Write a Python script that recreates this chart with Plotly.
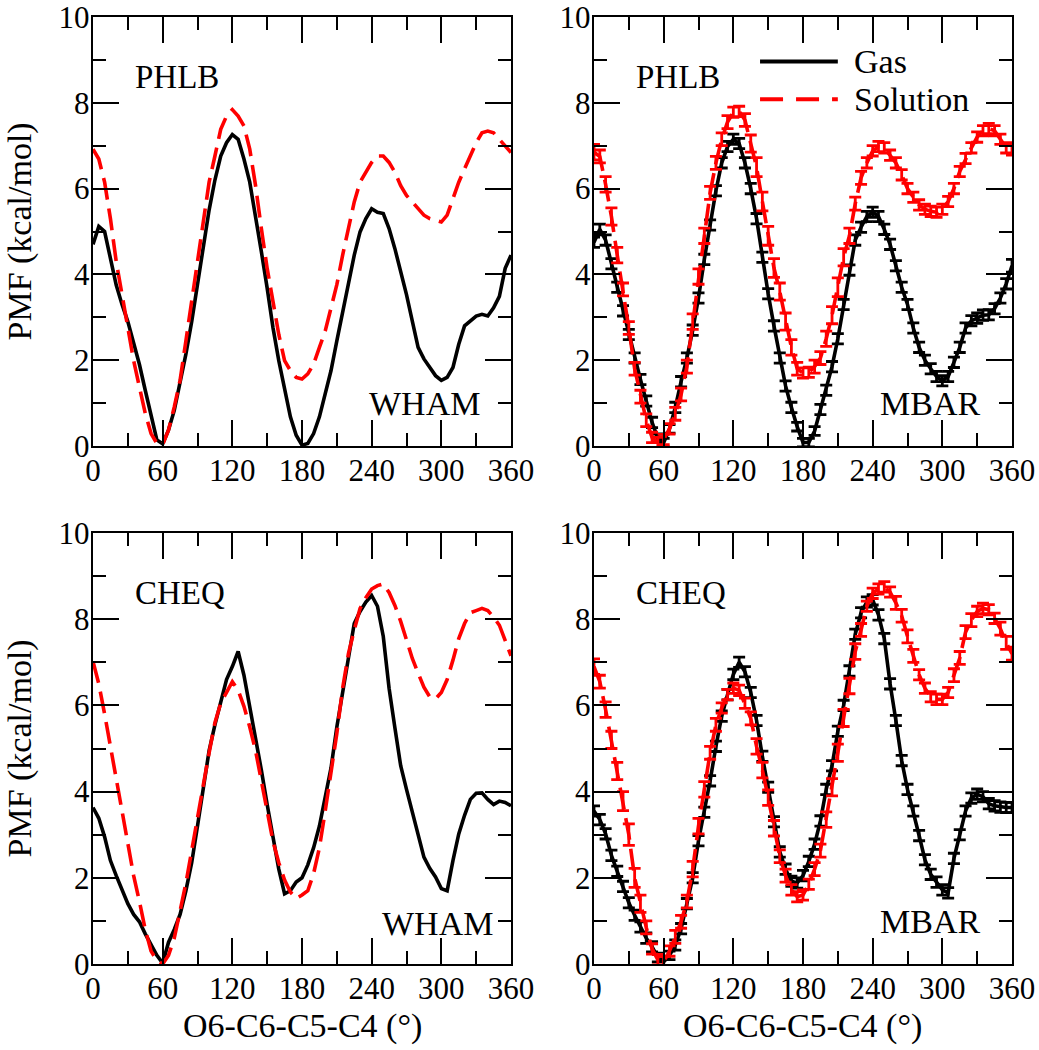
import plotly.graph_objects as go

# ---------------- data ----------------
angle = list(range(0, 361, 5))  # O6-C6-C5-C4 dihedral (deg)

# PHLB, WHAM
phlb_wham_gas = [4.70, 5.12, 5.00, 4.35, 3.75, 3.30, 2.90, 2.40, 1.90, 1.30, 0.68, 0.14, 0.05,
                 0.37, 0.83, 1.45, 2.14, 2.90, 3.76, 4.68, 5.50, 6.20, 6.76, 7.07, 7.26, 7.15,
                 6.69, 6.15, 5.38, 4.53, 3.68, 2.76, 1.99, 1.29, 0.68, 0.25, 0.02, 0.06, 0.29,
                 0.68, 1.22, 1.76, 2.45, 3.14, 3.84, 4.45, 4.99, 5.30, 5.53, 5.45, 5.42, 5.07,
                 4.60, 4.07, 3.53, 2.91, 2.30, 2.03, 1.83, 1.64, 1.53, 1.60, 1.83, 2.37, 2.80,
                 2.91, 3.03, 3.07, 3.03, 3.22, 3.49, 4.14, 4.45]
phlb_wham_sol = [6.92, 6.69, 6.15, 5.30, 4.30, 3.53, 2.76, 1.99, 1.37, 0.76, 0.29, 0.06, 0.03,
                 0.37, 0.91, 1.53, 2.45, 3.37, 4.30, 5.30, 6.15, 6.76, 7.38, 7.69, 7.84, 7.69,
                 7.46, 6.92, 6.07, 5.07, 4.14, 3.37, 2.60, 1.99, 1.76, 1.60, 1.56, 1.68, 1.91,
                 2.30, 2.68, 3.22, 3.76, 4.45, 5.07, 5.69, 6.15, 6.38, 6.61, 6.76, 6.76, 6.61,
                 6.38, 6.07, 5.84, 5.69, 5.53, 5.38, 5.30, 5.26, 5.22, 5.38, 5.76, 6.15, 6.46,
                 6.76, 7.07, 7.30, 7.34, 7.30, 7.15, 6.99, 6.84]

# PHLB, MBAR
phlb_mbar_gas = [4.75, 5.05, 4.80, 4.25, 3.70, 3.15, 2.60, 2.05, 1.55, 1.05, 0.55, 0.18, 0.08,
                 0.40, 0.90, 1.50, 2.05, 2.70, 3.45, 4.35, 5.15, 5.95, 6.60, 6.98, 7.15, 7.05,
                 6.60, 6.00, 5.30, 4.40, 3.55, 2.80, 2.05, 1.40, 0.90, 0.45, 0.08, 0.08, 0.35,
                 0.85, 1.30, 1.85, 2.50, 3.30, 4.10, 4.80, 5.10, 5.35, 5.45, 5.35, 5.05, 4.70,
                 4.20, 3.70, 3.30, 2.75, 2.30, 2.00, 1.80, 1.62, 1.52, 1.62, 1.95, 2.30, 2.75,
                 2.92, 2.98, 3.05, 3.06, 3.20, 3.45, 3.78, 4.20]
phlb_mbar_sol = [6.85, 6.75, 6.10, 5.35, 4.45, 3.65, 2.75, 1.80, 1.15, 0.60, 0.20, 0.08, 0.15,
                 0.40, 0.75, 1.20, 1.85, 2.90, 3.95, 4.90, 5.90, 6.60, 7.15, 7.55, 7.78, 7.80,
                 7.60, 7.05, 6.50, 5.70, 4.90, 4.15, 3.60, 2.90, 2.30, 1.80, 1.70, 1.72, 1.85,
                 2.05, 2.50, 3.05, 3.70, 4.40, 4.90, 5.65, 6.25, 6.60, 6.88, 6.98, 6.95, 6.78,
                 6.60, 6.32, 6.00, 5.80, 5.62, 5.52, 5.47, 5.45, 5.52, 5.70, 6.00, 6.40, 6.70,
                 6.95, 7.20, 7.35, 7.40, 7.35, 7.15, 6.95, 6.90]

# CHEQ, WHAM
cheq_wham_gas = [3.63, 3.38, 2.95, 2.40, 2.05, 1.70, 1.40, 1.15, 0.98, 0.70, 0.45, 0.20, 0.02,
                 0.50, 0.80, 1.15, 1.70, 2.35, 3.20, 4.10, 4.95, 5.55, 6.05, 6.60, 6.90, 7.25,
                 6.70, 6.00, 5.20, 4.50, 3.70, 2.95, 2.20, 1.63, 1.70, 1.90, 2.00, 2.30, 2.70,
                 3.20, 3.90, 4.55, 5.50, 6.30, 7.15, 7.90, 8.18, 8.40, 8.55, 8.30, 7.60, 6.40,
                 5.48, 4.60, 4.05, 3.50, 2.95, 2.48, 2.22, 2.02, 1.75, 1.70, 2.40, 3.02, 3.45,
                 3.82, 3.96, 3.97, 3.82, 3.70, 3.78, 3.75, 3.67]
cheq_wham_sol = [7.02, 6.50, 5.80, 5.05, 4.30, 3.50, 2.71, 2.05, 1.45, 0.80, 0.30, 0.08, 0.00,
                 0.20, 0.60, 1.20, 1.87, 2.63, 3.45, 4.15, 4.90, 5.60, 6.05, 6.32, 6.55, 6.35,
                 5.98, 5.50, 4.95, 4.25, 3.50, 2.85, 2.35, 1.95, 1.67, 1.52, 1.60, 1.70, 2.10,
                 2.70, 3.55, 4.40, 5.35, 6.40, 7.20, 7.75, 8.25, 8.50, 8.70, 8.78, 8.82, 8.62,
                 8.32, 7.95, 7.50, 7.09, 6.75, 6.42, 6.20, 6.15, 6.30, 6.60, 7.05, 7.55, 7.90,
                 8.15, 8.20, 8.25, 8.20, 8.05, 7.86, 7.50, 7.15]

# CHEQ, MBAR
cheq_mbar_gas = [3.55, 3.35, 3.02, 2.52, 2.15, 1.80, 1.42, 1.13, 0.86, 0.60, 0.40, 0.15, 0.05,
                 0.20, 0.44, 0.82, 1.40, 2.00, 2.86, 3.52, 4.25, 5.05, 5.75, 6.25, 6.72, 7.00,
                 6.78, 6.30, 5.65, 4.82, 4.10, 3.30, 2.60, 2.20, 1.92, 1.88, 2.05, 2.38, 2.78,
                 3.32, 4.05, 4.60, 5.40, 6.00, 6.80, 7.65, 8.15, 8.40, 8.45, 8.10, 7.55, 6.50,
                 5.65, 4.72, 4.05, 3.55, 2.98, 2.42, 2.08, 1.90, 1.72, 1.65, 2.45, 3.00, 3.55,
                 3.85, 3.94, 3.88, 3.72, 3.67, 3.64, 3.63, 3.63]
cheq_mbar_sol = [6.90, 6.55, 5.90, 5.20, 4.48, 3.78, 3.00, 2.00, 1.40, 0.85, 0.35, 0.10, 0.05,
                 0.30, 0.63, 0.98, 1.45, 2.20, 3.20, 4.05, 4.90, 5.55, 5.94, 6.25, 6.40, 6.35,
                 6.05, 5.70, 5.05, 4.50, 3.86, 3.15, 2.50, 2.05, 1.72, 1.56, 1.60, 1.85, 2.20,
                 2.63, 3.35, 4.10, 4.90, 5.71, 6.45, 7.25, 7.75, 8.30, 8.60, 8.70, 8.75, 8.63,
                 8.38, 8.08, 7.60, 7.15, 6.71, 6.40, 6.20, 6.14, 6.14, 6.30, 6.70, 7.10, 7.70,
                 7.98, 8.18, 8.25, 8.22, 8.02, 7.78, 7.45, 7.20]

# MBAR error estimates (kcal/mol)
phlb_mbar_gas_err = [0.12, 0.12, 0.12, 0.12, 0.12, 0.12, 0.12, 0.12, 0.12, 0.12, 0.12, 0.10, 0.10,
                     0.10, 0.12, 0.12, 0.12, 0.12, 0.12, 0.12, 0.12, 0.12, 0.12, 0.12, 0.12, 0.12,
                     0.12, 0.12, 0.12, 0.12, 0.12, 0.12, 0.12, 0.12, 0.12, 0.10, 0.10, 0.10, 0.10,
                     0.12, 0.12, 0.12, 0.12, 0.12, 0.12, 0.12, 0.12, 0.12, 0.12, 0.12, 0.12, 0.12,
                     0.12, 0.12, 0.12, 0.12, 0.12, 0.12, 0.12, 0.12, 0.12, 0.12, 0.12, 0.12, 0.12,
                     0.12, 0.12, 0.12, 0.12, 0.12, 0.12, 0.12, 0.15]
phlb_mbar_sol_err = [0.18, 0.15, 0.18, 0.20, 0.18, 0.15, 0.15, 0.15, 0.15, 0.15, 0.12, 0.12, 0.12,
                     0.12, 0.15, 0.15, 0.15, 0.18, 0.18, 0.18, 0.15, 0.15, 0.15, 0.15, 0.12, 0.12,
                     0.15, 0.20, 0.22, 0.22, 0.22, 0.22, 0.20, 0.20, 0.18, 0.15, 0.12, 0.12, 0.15,
                     0.15, 0.18, 0.20, 0.22, 0.20, 0.18, 0.15, 0.15, 0.12, 0.12, 0.12, 0.12, 0.12,
                     0.12, 0.12, 0.12, 0.12, 0.12, 0.12, 0.12, 0.12, 0.12, 0.12, 0.12, 0.12, 0.12,
                     0.12, 0.12, 0.12, 0.12, 0.12, 0.12, 0.12, 0.12]
cheq_mbar_gas_err = [0.12, 0.12, 0.12, 0.12, 0.12, 0.12, 0.12, 0.12, 0.12, 0.12, 0.12, 0.10, 0.10,
                     0.10, 0.12, 0.12, 0.12, 0.12, 0.12, 0.12, 0.12, 0.12, 0.12, 0.12, 0.12, 0.12,
                     0.12, 0.12, 0.12, 0.12, 0.12, 0.12, 0.12, 0.12, 0.12, 0.12, 0.12, 0.12, 0.12,
                     0.12, 0.12, 0.12, 0.12, 0.12, 0.12, 0.12, 0.12, 0.12, 0.12, 0.12, 0.12, 0.12,
                     0.12, 0.12, 0.12, 0.12, 0.12, 0.12, 0.12, 0.12, 0.12, 0.12, 0.12, 0.12, 0.12,
                     0.12, 0.12, 0.12, 0.12, 0.12, 0.12, 0.12, 0.12]
cheq_mbar_sol_err = [0.18, 0.15, 0.18, 0.20, 0.20, 0.22, 0.25, 0.22, 0.20, 0.15, 0.12, 0.12, 0.12,
                     0.12, 0.15, 0.15, 0.15, 0.18, 0.18, 0.18, 0.15, 0.15, 0.12, 0.12, 0.12, 0.12,
                     0.12, 0.15, 0.18, 0.18, 0.18, 0.18, 0.15, 0.15, 0.12, 0.12, 0.12, 0.12, 0.15,
                     0.15, 0.18, 0.20, 0.20, 0.20, 0.18, 0.18, 0.15, 0.12, 0.12, 0.12, 0.12, 0.12,
                     0.15, 0.15, 0.15, 0.15, 0.12, 0.12, 0.12, 0.12, 0.12, 0.12, 0.15, 0.15, 0.15,
                     0.15, 0.12, 0.12, 0.12, 0.12, 0.15, 0.15, 0.15]

force_fields = ["PHLB", "PHLB", "CHEQ", "CHEQ"]
methods = ["WHAM", "MBAR", "WHAM", "MBAR"]
series_names = ["Gas", "Solution"]
x_ticks = [0, 60, 120, 180, 240, 300, 360]
y_ticks = [0, 2, 4, 6, 8, 10]

# ---------------- figure ----------------
W, H = 1039, 1050
FONT = "Liberation Serif, Liberation Sans, Arial, sans-serif"
BLACK = "#000000"
RED = "#ff0000"

def px_x(p):
    return p / W

def px_y(p):
    return 1 - p / H

x_dom = [[px_x(93), px_x(511)], [px_x(594), px_x(1012)]]
y_dom = [[px_y(446), px_y(17)], [px_y(964), px_y(533)]]

fig = go.Figure()

panels = [
    (phlb_wham_gas, phlb_wham_sol, None, None),
    (phlb_mbar_gas, phlb_mbar_sol, phlb_mbar_gas_err, phlb_mbar_sol_err),
    (cheq_wham_gas, cheq_wham_sol, None, None),
    (cheq_mbar_gas, cheq_mbar_sol, cheq_mbar_gas_err, cheq_mbar_sol_err),
]

layout = {}
for i, (g, s, ge, se) in enumerate(panels):
    k = i + 1
    xa = "x" if k == 1 else f"x{k}"
    ya = "y" if k == 1 else f"y{k}"
    row, col = divmod(i, 2)
    for vals, err, color, dash, name in [
        (g, ge, BLACK, "solid", series_names[0]),
        (s, se, RED, "22px,9px", series_names[1]),
    ]:
        tr = dict(x=angle, y=vals, mode="lines", name=name, showlegend=False,
                  line=dict(color=color, width=3.6, dash=dash),
                  xaxis=xa, yaxis=ya, hoverinfo="skip")
        if err is not None:
            tr["error_y"] = dict(type="data", array=err, visible=True, color=color,
                                 thickness=2.8, width=6)
        fig.add_trace(go.Scatter(**tr))

    axcommon = dict(showline=True, linecolor=BLACK, linewidth=2.2, mirror="ticks",
                    ticks="inside", tickcolor=BLACK, tickwidth=2, ticklen=26,
                    showgrid=False, zeroline=False, automargin=False,
                    ticklabeloverflow="allow",
                    tickfont=dict(family=FONT, size=31, color=BLACK))
    layout["xaxis" if k == 1 else f"xaxis{k}"] = dict(
        domain=x_dom[col], range=[0, 360], tickvals=x_ticks,
        ticktext=[str(v) for v in x_ticks],
        minor=dict(dtick=30, tick0=0, ticks="inside", ticklen=13, tickwidth=2,
                   tickcolor=BLACK),
        anchor=ya, ticklabelstandoff=-4, **axcommon)
    layout["yaxis" if k == 1 else f"yaxis{k}"] = dict(
        domain=y_dom[row], range=[0, 10], tickvals=y_ticks,
        ticktext=[str(v) for v in y_ticks],
        minor=dict(dtick=1, tick0=0, ticks="inside", ticklen=13, tickwidth=2,
                   tickcolor=BLACK),
        anchor=xa, ticklabelstandoff=-5, **axcommon)

fig.update_layout(**layout)

annotations = []
for i in range(4):
    k = i + 1
    xa = "x" if k == 1 else f"x{k}"
    ya = "y" if k == 1 else f"y{k}"
    annotations.append(dict(x=34.5, y=8.6, xref=xa, yref=ya, text=force_fields[i],
                            showarrow=False, xanchor="left", yanchor="middle",
                            font=dict(family=FONT, size=33, color=BLACK)))
    mx = {0: 335, 1: 334, 2: 346, 3: 334}[i]
    my = {0: 1.0, 1: 1.0, 2: 0.95, 3: 0.98}[i]
    annotations.append(dict(x=mx, y=my, xref=xa, yref=ya, text=methods[i],
                            showarrow=False, xanchor="right", yanchor="middle",
                            font=dict(family=FONT, size=34, color=BLACK)))

# axis titles
for row in range(2):
    yc = (y_dom[row][0] + y_dom[row][1]) / 2
    annotations.append(dict(x=px_x(19), y=yc, xref="paper", yref="paper",
                            text="PMF (kcal/mol)", textangle=-90, showarrow=False,
                            xanchor="center", yanchor="middle",
                            font=dict(family=FONT, size=34, color=BLACK)))
for col in range(2):
    xc = (x_dom[col][0] + x_dom[col][1]) / 2
    annotations.append(dict(x=xc, y=px_y(1026), xref="paper", yref="paper",
                            text="O6-C6-C5-C4 (°)", showarrow=False,
                            xanchor="center", yanchor="middle",
                            font=dict(family=FONT, size=34, color=BLACK)))

# legend (drawn inside the PHLB / MBAR panel)
leg_x0, leg_x1, leg_tx = 143, 210, 222
leg_rows = [(8.96, BLACK, "solid", series_names[0]), (8.08, RED, "23px,13px", series_names[1])]
shapes = []
for yv, color, dash, name in leg_rows:
    shapes.append(dict(type="line", xref="x2", yref="y2", x0=leg_x0, x1=leg_x1, y0=yv, y1=yv,
                       line=dict(color=color, width=4, dash=dash)))
    annotations.append(dict(x=leg_tx, y=yv, xref="x2", yref="y2", text=name,
                            showarrow=False, xanchor="left", yanchor="middle",
                            font=dict(family=FONT, size=34, color=BLACK)))

fig.update_layout(width=W, height=H,
                  margin=dict(l=0, r=0, t=0, b=0, pad=0, autoexpand=False),
                  paper_bgcolor="white", plot_bgcolor="white",
                  annotations=annotations, shapes=shapes, showlegend=False)

# place the figure at the page's top-left corner (no default body margin)
fig.write_html("out.html",
               config={"displayModeBar": False, "staticPlot": True},
               post_script="document.body.style.margin='0';document.body.style.padding='0';")
